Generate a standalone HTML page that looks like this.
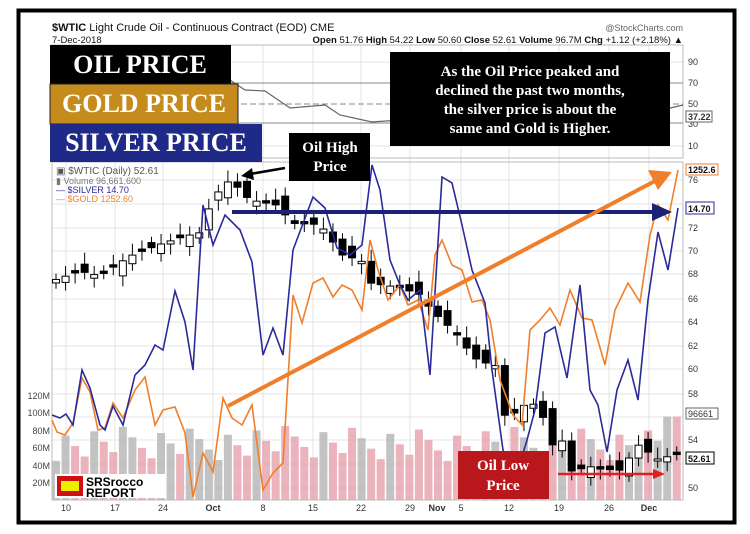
<!DOCTYPE html>
<html><head><meta charset="utf-8"><style>
body{margin:0;background:#fff;width:750px;height:534px;overflow:hidden;font-family:"Liberation Sans",sans-serif}
svg{position:absolute;left:0;top:0}
</style></head><body>
<svg id="s" width="750" height="534" viewBox="0 0 750 534" font-family="Liberation Sans, sans-serif">
<rect x="0" y="0" width="750" height="534" fill="#fff"/>
<rect x="18.5" y="10.5" width="716" height="512" fill="#fff" stroke="#000" stroke-width="4"/>
<g id="grid" stroke="#e4e4e4" stroke-width="1"></g>
<rect x="52" y="45" width="631" height="113" fill="none" stroke="#bbb"/>
<line x1="52" y1="83" x2="683" y2="83" stroke="#888"/>
<line x1="52" y1="104" x2="683" y2="104" stroke="#888" stroke-dasharray="6,3"/>
<line x1="52" y1="123" x2="683" y2="123" stroke="#888"/>
<polyline fill="none" stroke="#666" stroke-width="1.2" points="230,80 245,90 265,91 290,108 325,105 340,115 372,122 400,120 430,124 470,118 520,125 560,120 600,117 640,115 683,105"/>
<rect x="52" y="162" width="631" height="338" fill="none" stroke="#bbb"/>
<g id="vol"></g>
<g id="candles"></g>
<polyline id="ag" fill="none" stroke="#f07f2c" stroke-width="1.6"/>
<polyline id="silver" fill="none" stroke="#2a2a9a" stroke-width="1.6"/>
<text x="52" y="31" font-size="11" fill="#111"><tspan font-weight="bold">$WTIC</tspan> Light Crude Oil - Continuous Contract (EOD) CME</text>
<text x="52" y="43" font-size="9.5" fill="#111">7-Dec-2018</text>
<text x="683" y="31" font-size="9" fill="#666" text-anchor="end">@StockCharts.com</text>
<text x="683" y="43" font-size="9.5" fill="#111" text-anchor="end"><tspan font-weight="bold">Open</tspan> 51.76 <tspan font-weight="bold">High</tspan> 54.22 <tspan font-weight="bold">Low</tspan> 50.60 <tspan font-weight="bold">Close</tspan> 52.61 <tspan font-weight="bold">Volume</tspan> 96.7M <tspan font-weight="bold">Chg</tspan> +1.12 (+2.18%) ▲</text>
<g font-size="9" fill="#333">
<text x="688" y="65">90</text><text x="688" y="86">70</text><text x="688" y="107">50</text><text x="688" y="127">30</text><text x="688" y="149">10</text>
<text x="688" y="183">76</text><text x="688" y="231">72</text><text x="688" y="254">70</text><text x="688" y="277">68</text><text x="688" y="302">66</text><text x="688" y="325">64</text><text x="688" y="349">62</text><text x="688" y="372">60</text><text x="688" y="397">58</text><text x="688" y="443">54</text><text x="688" y="491">50</text>
</g>
<g font-size="9" font-weight="bold">
<rect x="686" y="111" width="26" height="11" fill="#fff" stroke="#666"/><text x="688" y="120" fill="#333">37.22</text>
<rect x="686" y="164" width="32" height="11" fill="#fff" stroke="#f07f2c"/><text x="688" y="173" fill="#111">1252.6</text>
<rect x="686" y="202" width="28" height="12" fill="#fff" stroke="#2a2a9a"/><text x="688" y="212" fill="#111">14.70</text>
<rect x="686" y="408" width="32" height="11" fill="#fff" stroke="#666"/><text x="688" y="417" fill="#333" font-weight="normal">96661</text>
<rect x="686" y="452" width="28" height="12" fill="#fff" stroke="#000"/><text x="688" y="462" fill="#111">52.61</text>
</g>
<g font-size="9" fill="#444" text-anchor="end">
<text x="50" y="399">120M</text><text x="50" y="416">100M</text><text x="50" y="434">80M</text><text x="50" y="451">60M</text><text x="50" y="469">40M</text><text x="50" y="486">20M</text>
</g>
<g font-size="9" fill="#333" text-anchor="middle">
<text x="66" y="511">10</text><text x="115" y="511">17</text><text x="163" y="511">24</text><text x="213" y="511" font-weight="bold">Oct</text><text x="263" y="511">8</text><text x="313" y="511">15</text><text x="361" y="511">22</text><text x="410" y="511">29</text><text x="437" y="511" font-weight="bold">Nov</text><text x="461" y="511">5</text><text x="509" y="511">12</text><text x="559" y="511">19</text><text x="609" y="511">26</text><text x="649" y="511" font-weight="bold">Dec</text>
</g>
<g font-size="10">
<text x="56" y="174" fill="#555">▣ $WTIC (Daily) 52.61</text>
<text x="56" y="184" fill="#777" font-size="9">▮ Volume 96,661,600</text>
<text x="56" y="193" fill="#2a2a9a" font-size="9">— $SILVER 14.70</text>
<text x="56" y="202" fill="#f07f2c" font-size="9">— $GOLD 1252.60</text>
</g>
<line x1="232" y1="212" x2="655" y2="212" stroke="#1a2278" stroke-width="4"/>
<polygon points="652,203 672,212 652,221" fill="#1a2278"/>
<line x1="228" y1="406" x2="655" y2="181" stroke="#f07f2c" stroke-width="4"/>
<polygon points="648,170 672,172 658,190" fill="#f07f2c"/>
<line x1="285" y1="168" x2="250" y2="174" stroke="#000" stroke-width="2.5"/>
<polygon points="252,168 241,176 254,180" fill="#000"/>
<line x1="558" y1="474" x2="655" y2="474" stroke="#e02020" stroke-width="2.5"/>
<polygon points="653,469 665,474 653,479" fill="#e02020"/>
<g font-family="Liberation Serif, DejaVu Serif, serif" font-weight="bold" fill="#fff">
<rect x="50" y="45" width="181" height="39" fill="#000"/>
<text x="140" y="73" font-size="26" text-anchor="middle">OIL PRICE</text>
<rect x="50" y="84" width="188" height="40" fill="#c58b1c" stroke="#222"/>
<text x="144" y="112" font-size="26" text-anchor="middle">GOLD PRICE</text>
<rect x="50" y="124" width="212" height="38" fill="#1f2a88"/>
<text x="156" y="151" font-size="26" text-anchor="middle">SILVER PRICE</text>
<rect x="289" y="133" width="81" height="48" fill="#000"/>
<text x="330" y="152" font-size="15" text-anchor="middle">Oil High</text>
<text x="330" y="171" font-size="15" text-anchor="middle">Price</text>
<rect x="390" y="52" width="280" height="94" fill="#000"/>
<text x="530" y="76" font-size="15" text-anchor="middle">As the Oil Price peaked and</text>
<text x="530" y="95" font-size="15" text-anchor="middle">declined the past two months,</text>
<text x="530" y="114" font-size="15" text-anchor="middle">the silver price is about the</text>
<text x="530" y="133" font-size="15" text-anchor="middle">same and Gold is Higher.</text>
<rect x="458" y="451" width="91" height="48" fill="#b8181c"/>
<text x="503" y="470" font-size="15" text-anchor="middle">Oil Low</text>
<text x="503" y="490" font-size="15" text-anchor="middle">Price</text>
</g>
<rect x="55" y="474" width="110" height="24" fill="#fff"/>
<rect x="57" y="476" width="26" height="20" fill="#d01010"/>
<rect x="61" y="481" width="18" height="10" fill="#ee0"/>
<text x="86" y="486" font-size="12" font-weight="bold" fill="#000">SRSrocco</text>
<text x="86" y="497" font-size="12" font-weight="bold" fill="#000">REPORT</text>
</svg>
<script>
var ns="http://www.w3.org/2000/svg";
function el(p,t,a){var e=document.createElementNS(ns,t);for(var k in a)e.setAttribute(k,a[k]);document.getElementById(p).appendChild(e);return e;}
[66,115,163,213,263,313,361,410,461,509,559,609,649].forEach(function(x){el("grid","line",{x1:x,y1:45,x2:x,y2:500});});
[180,204,228,251,274,299,322,346,369,394,417,440,464,488,62,146].forEach(function(y){el("grid","line",{x1:52,y1:y,x2:683,y2:y});});
function X(k){return 56+9.55*k;}
function Y(v){return 180+(76-v)*11.7;}
var kp=[[56,67.5],[80,68.2],[100,67.8],[130,69.5],[160,70.5],[185,71.2],[200,71.5],[213,74.5],[232,76.2],[240,75],[250,74.3],[280,73.8],[290,72.3],[320,72.2],[345,69.3],[360,69.4],[370,67.2],[400,66.8],[420,66.2],[432,64.8],[445,63.8],[460,62.5],[470,61.2],[480,60.4],[495,60.3],[503,56],[510,55.6],[520,56.7],[540,56.9],[550,53],[560,54.4],[570,51.1],[590,51.5],[600,51.3],[620,51.2],[640,53.5],[655,52.1],[680,52.6]];
function val(x){for(var i=0;i<kp.length-1;i++){var a=kp[i],b=kp[i+1];if(x>=a[0]&&x<=b[0])return a[1]+(b[1]-a[1])*(x-a[0])/(b[0]-a[0]);}return 52.6;}
var cl=[];for(var k=0;k<=65;k++)cl[k]=val(X(k));
for(var k=0;k<=65;k++){
 var jit=((k*37)%7-3)*0.25;
 var o=k?cl[k-1]+jit:cl[k]-0.3, c=cl[k]; if(Math.abs(o-c)<0.15)o=c+0.2;
 var x=X(k), hi=Math.max(o,c)+0.5+((k*13)%5)*0.12, lo=Math.min(o,c)-0.5-((k*7)%5)*0.1;
 var v=45+((k*29)%41); if(k>63)v=96;
 el("vol","rect",{x:x-4,y:500-v*0.87,width:8,height:v*0.87,fill:(c<o)?"#e8a6b0":"#b8b8b8",opacity:0.85});
 el("candles","line",{x1:x,y1:Y(hi),x2:x,y2:Y(lo),stroke:"#000","stroke-width":1});
 var t=Y(Math.max(o,c)),h=Math.max(2,Y(Math.min(o,c))-t);
 el("candles","rect",{x:x-3.5,y:t,width:7,height:h,fill:(c<o)?"#000":"#fff",stroke:"#000","stroke-width":1});
}
document.getElementById("silver").setAttribute("points","52,415 60,418 66,414 73,425 82,370 90,388 100,425 105,430 113,406 123,425 135,375 145,365 155,345 163,350 175,291 185,322 193,370 203,205 213,245 225,215 240,230 252,262 263,355 273,328 283,355 293,250 313,197 325,208 337,248 350,255 362,245 372,165 380,190 390,260 400,285 408,300 420,290 430,375 442,177 452,183 462,225 472,270 485,303 492,370 503,450 515,480 527,440 535,410 545,333 555,327 567,378 580,285 590,390 598,405 607,452 617,390 628,360 638,400 648,300 658,232 668,270 678,208");
document.getElementById("ag").setAttribute("points","52,420 57,432 65,435 73,423 82,378 90,392 98,430 105,428 113,403 123,418 135,390 145,377 155,425 163,410 175,407 185,433 193,497 203,453 213,472 223,398 232,418 242,425 252,405 263,490 273,473 283,463 293,295 302,323 313,283 323,278 333,297 342,285 352,290 362,310 370,240 378,270 388,300 400,285 408,305 418,300 428,330 435,255 442,240 452,265 462,270 472,302 482,300 490,320 500,380 513,415 522,425 530,330 540,320 550,308 560,325 570,290 582,318 592,320 605,365 615,310 628,283 640,302 650,235 658,205 668,220 678,170");
</script>
</body></html>
